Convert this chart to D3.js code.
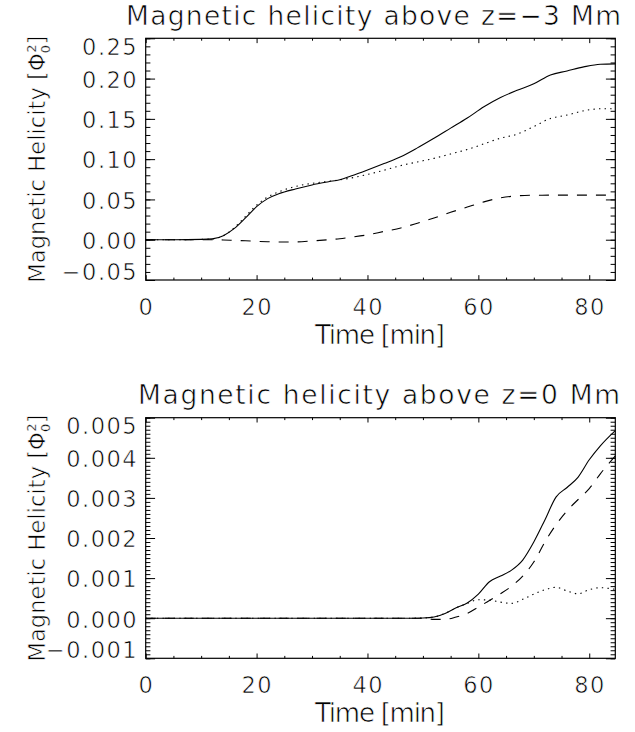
<!DOCTYPE html>
<html>
<head>
<meta charset="utf-8">
<script src="https://cdn.jsdelivr.net/npm/d3@7"></script>
<style>
  body { margin: 0; background: #fff; }
  svg text { font-family: "DejaVu Sans", sans-serif; fill: #000; stroke: #fff; stroke-width: 0.65px; }
  svg tspan.small { stroke-width: 0.3px; }
</style>
</head>
<body>
<svg id="chart" width="635" height="732"></svg>
<script>
// ---- shared time axis (minutes) ----
const timeMax = 84.7;
const xTickValues = [0, 20, 40, 60, 80];
const xTickLabels = ["0", "20", "40", "60", "80"];

// ---- panel 1: helicity above z = -3 Mm ----
const time1 = [0, 5, 10, 12, 14, 16, 18, 20, 22, 24, 27, 30, 33, 35, 37, 40, 43, 46, 49, 52, 55, 58, 61, 64, 67, 70, 73, 76, 79, 82, 84.7];
const total1 = [0, 0, 0.0004, 0.001, 0.005, 0.014, 0.027, 0.041, 0.051, 0.057, 0.063, 0.068, 0.072, 0.0745, 0.079, 0.0865, 0.0945, 0.103, 0.114, 0.126, 0.1385, 0.151, 0.165, 0.1765, 0.1855, 0.1935, 0.2045, 0.2095, 0.2145, 0.2178, 0.2182];
const dotted1 = [0, 0, 0.0004, 0.001, 0.005, 0.015, 0.029, 0.043, 0.053, 0.0595, 0.066, 0.070, 0.0725, 0.0743, 0.0765, 0.081, 0.0863, 0.092, 0.0965, 0.101, 0.1065, 0.112, 0.119, 0.126, 0.131, 0.1405, 0.1505, 0.1547, 0.160, 0.1625, 0.1625];
const dashed1 = [0, 0, 0, 0, -0.0003, -0.0008, -0.0013, -0.002, -0.0025, -0.0028, -0.0027, -0.0015, 0, 0.0012, 0.003, 0.006, 0.0103, 0.0145, 0.0205, 0.027, 0.034, 0.0405, 0.047, 0.052, 0.0545, 0.0552, 0.0553, 0.0553, 0.0553, 0.0553, 0.0553];
const yTicks1 = [-0.05, 0, 0.05, 0.10, 0.15, 0.20, 0.25];
const yLabels1 = ["\u22120.05", "0.00", "0.05", "0.10", "0.15", "0.20", "0.25"];
const title1 = "Magnetic helicity above z=\u22123 Mm";

// ---- panel 2: helicity above z = 0 Mm ----
const time2 = [0, 10, 20, 30, 40, 48, 50, 52, 54, 56, 58, 60, 62, 64, 66, 68, 70, 72, 74, 76, 78, 80, 82, 84.7];
const total2 = [0, 0, 0, 0, 0, 0, 0.000005, 0.00003, 0.00012, 0.00026, 0.00038, 0.0006, 0.00091, 0.00105, 0.0012, 0.00145, 0.0019, 0.00245, 0.00302, 0.00326, 0.00352, 0.00395, 0.0043, 0.00468];
const dotted2 = [0, 0, 0, 0, 0, 0, 0.000005, 0.00003, 0.00012, 0.00026, 0.00037, 0.00046, 0.00045, 0.0004, 0.00037, 0.00047, 0.0006, 0.00071, 0.00077, 0.00068, 0.00061, 0.00071, 0.00076, 0.00072];
const dashed2 = [0, 0, 0, 0, 0, 0, 0, -0.00003, -0.00003, 0.00003, 0.00012, 0.00028, 0.00044, 0.00061, 0.0008, 0.00105, 0.0014, 0.0019, 0.00233, 0.00268, 0.00296, 0.00323, 0.0036, 0.00405];
const yTicks2 = [-0.001, 0, 0.001, 0.002, 0.003, 0.004, 0.005];
const yLabels2 = ["\u22120.001", "0.000", "0.001", "0.002", "0.003", "0.004", "0.005"];
const title2 = "Magnetic helicity above z=0 Mm";

const svg = d3.select("#chart");

const panels = [
  { top: 38.3, bottom: 280, title: title1, titleX: 126, titleW: 495, titleY: 25,
    time: time1, series: [total1, dotted1, dashed1],
    yTicks: yTicks1, yLabels: yLabels1, yMinorStep: 0.01 },
  { top: 417.7, bottom: 658.3, title: title2, titleX: 138, titleW: 482, titleY: 403.5,
    time: time2, series: [total2, dotted2, dashed2],
    yTicks: yTicks2, yLabels: yLabels2, yMinorStep: 0.0001 }
];

const left = 145.7, right = 615.3;
const dashStyles = [null, "1.4,4.2", "10,9"];

panels.forEach(p => {
  const g = svg.append("g");
  const x = d3.scaleLinear().domain([0, timeMax]).range([left, right]);
  const yMin = p.yTicks[0], yMax = p.yTicks[p.yTicks.length - 1];
  const y = d3.scaleLinear().domain([yMin, yMax]).range([p.bottom, p.top]);

  const h = p.bottom - p.top, w = right - left;
  const xMajorLen = 0.02 * h, yMajorLen = 0.02 * w;

  const xMinor = d3.range(0, timeMax, 5).filter(v => v % 20 !== 0);
  const nMinor = Math.round((yMax - yMin) / p.yMinorStep);
  const yMinor = d3.range(0, nMinor + 1).map(i => yMin + i * p.yMinorStep);

  // ticks on all four sides, pointing inward
  const addAxis = (axis, tx, ty) => {
    const a = g.append("g").attr("transform", `translate(${tx},${ty})`).call(axis);
    a.select(".domain").remove();
    a.selectAll("line").attr("stroke", "#000").attr("stroke-width", 1);
    a.selectAll("text").remove();
  };
  addAxis(d3.axisBottom(x).tickValues(xTickValues).tickSize(-xMajorLen), 0, p.bottom);
  addAxis(d3.axisBottom(x).tickValues(xMinor).tickSize(-xMajorLen / 2), 0, p.bottom);
  addAxis(d3.axisTop(x).tickValues(xTickValues).tickSize(-xMajorLen), 0, p.top);
  addAxis(d3.axisTop(x).tickValues(xMinor).tickSize(-xMajorLen / 2), 0, p.top);
  addAxis(d3.axisLeft(y).tickValues(p.yTicks).tickSize(-yMajorLen), left, 0);
  addAxis(d3.axisLeft(y).tickValues(yMinor).tickSize(-yMajorLen / 2), left, 0);
  addAxis(d3.axisRight(y).tickValues(p.yTicks).tickSize(-yMajorLen), right, 0);
  addAxis(d3.axisRight(y).tickValues(yMinor).tickSize(-yMajorLen / 2), right, 0);

  // frame
  g.append("rect")
    .attr("x", left).attr("y", p.top)
    .attr("width", w).attr("height", h)
    .attr("fill", "none").attr("stroke", "#000").attr("stroke-width", 1.2);

  // curves
  const line = d3.line().curve(d3.curveMonotoneX);
  p.series.forEach((vals, i) => {
    const pts = p.time.map((t, k) => [x(t), y(vals[k])]);
    g.append("path")
      .attr("d", line(pts))
      .attr("fill", "none")
      .attr("stroke", "#000")
      .attr("stroke-width", 1.1)
      .attr("stroke-dasharray", dashStyles[i]);
  });

  // y tick labels (end labels kept inside the axis range)
  g.selectAll(".ylab").data(p.yTicks).join("text")
    .attr("class", "ylab")
    .attr("x", left - 9 + 1.5)
    .attr("y", (d, i) => i === 0 ? y(d) : i === p.yTicks.length - 1 ? y(d) + 16.5 : y(d) + 9.3)
    .attr("text-anchor", "end")
    .attr("font-size", 22.5)
    .attr("letter-spacing", 1.5)
    .text((d, i) => p.yLabels[i]);

  // x tick labels
  g.selectAll(".xlab").data(xTickValues).join("text")
    .attr("class", "xlab")
    .attr("x", d => x(d) + 0.75)
    .attr("y", p.bottom + 35)
    .attr("text-anchor", "middle")
    .attr("font-size", 22.5)
    .attr("letter-spacing", 1.5)
    .text((d, i) => xTickLabels[i]);

  // title
  g.append("text")
    .attr("x", p.titleX).attr("y", p.titleY)
    .attr("font-size", 26.5)
    .attr("textLength", p.titleW).attr("lengthAdjust", "spacing")
    .text(p.title);

  // x axis title
  g.append("text")
    .attr("x", 315).attr("y", p.bottom + 63.5)
    .attr("font-size", 26)
    .attr("textLength", 130).attr("lengthAdjust", "spacing")
    .text("Time [min]");

  // y axis title, rotated
  const cy = (p.top + p.bottom) / 2;
  const yt = g.append("text")
    .attr("transform", `translate(45,${cy}) rotate(-90)`)
    .attr("text-anchor", "middle")
    .attr("font-size", 22.5);
  yt.append("tspan").text("Magnetic Helicity [\u03A6");
  yt.append("tspan").attr("class", "small").attr("font-size", 13).attr("dy", 5).text("0");
  yt.append("tspan").attr("class", "small").attr("font-size", 13).attr("dx", -8).attr("dy", -14).text("2");
  yt.append("tspan").attr("dy", 9).text("]");
  const natural = yt.node().getComputedTextLength();
  const nChars = yt.text().length;
  yt.attr("letter-spacing", (255 - natural) / nChars);
});
</script>
</body>
</html>
